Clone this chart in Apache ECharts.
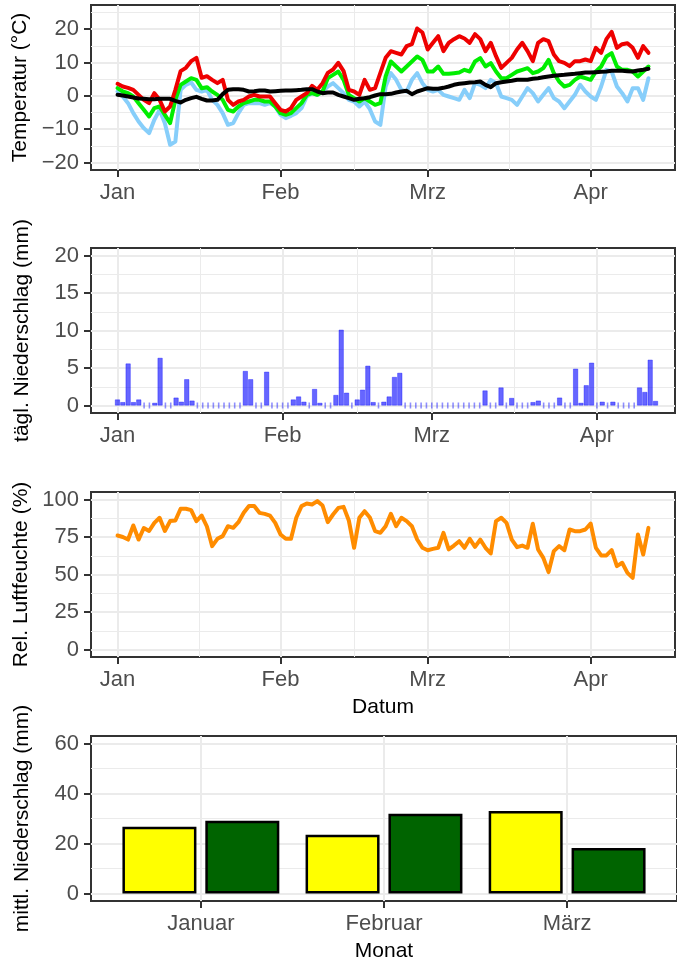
<!DOCTYPE html>
<html>
<head>
<meta charset="utf-8">
<script src="https://cdn.jsdelivr.net/npm/echarts@6/dist/echarts.min.js"></script>
<style>
  html, body { margin: 0; padding: 0; background: #fff; }
  #main { width: 677px; height: 965px; }
</style>
</head>
<body>
<div id="main"></div>
<script>
// Tageswerte, Index 0 = 1. Januar
const tMax = [3.6, 2.8, 2.4, 1.8, 0.3, -1.2, -2.2, 0.8, -1.2, -4.7,
  -3.2, 1.8, 7.4, 8.4, 10.4, 11.4, 5.4, 5.9, 4.8, 3.8,
  4.8, -1.2, -2.7, -1.7, -1.2, -0.2, 0.3, -0.2, -0.2, -0.2,
  -2.2, -4.2, -4.7, -3.7, -1.2, -0.2, 0.8, 3.0, 1.8, 3.8,
  6.9, 7.9, 9.9, 7.4, 1.8, 1.3, 0.3, 4.8, 1.8, 2.3,
  6.9, 11.4, 13.4, 12.9, 12.4, 14.9, 15.5, 20.2, 19.0, 13.9,
  15.9, 17.9, 13.4, 15.9, 17.0, 17.9, 17.2, 15.9, 18.5, 17.0,
  13.4, 15.9, 11.9, 8.4, 9.9, 11.4, 13.9, 15.9, 13.4, 10.4,
  15.9, 17.0, 16.4, 12.4, 10.4, 9.9, 8.9, 10.4, 10.4, 10.9,
  10.4, 14.4, 12.9, 17.0, 19.2, 14.4, 15.5, 15.8, 14.4, 11.4,
  14.9, 12.9]
const tMean = [2.3, 1.3, 0.8, -0.2, -2.2, -4.2, -6.2, -3.7, -3.2, -5.7,
  -8.2, -1.2, 3.3, 4.3, 5.3, 4.8, 2.3, 2.6, 1.3, 0.3,
  -1.2, -4.2, -4.7, -3.2, -2.2, -1.7, -1.2, -1.2, -1.7, -1.7,
  -3.2, -5.2, -5.7, -5.2, -3.7, -2.2, 0.3, 0.8, 0.3, 1.3,
  5.3, 6.3, 7.3, 4.8, 0.3, -0.7, -1.7, -0.7, -1.7, -2.7,
  -2.2, 5.8, 10.3, 8.8, 7.3, 8.8, 10.3, 11.8, 10.8, 7.3,
  7.3, 8.8, 6.6, 6.6, 6.8, 7.0, 7.8, 7.3, 10.3, 11.3,
  8.8, 9.8, 7.3, 5.3, 5.3, 6.3, 7.3, 7.8, 8.3, 6.8,
  7.3, 8.3, 10.8, 6.8, 4.3, 2.8, 3.3, 4.8, 5.8, 5.3,
  4.8, 7.3, 8.8, 11.8, 12.8, 8.8, 7.8, 7.8, 7.3, 5.8,
  7.3, 8.8]
const tMin = [1.3, -0.2, -2.2, -5.2, -7.7, -9.7, -11.2, -7.2, -4.2, -8.2,
  -14.7, -13.7, 1.8, 3.3, 4.0, 1.8, 1.3, 1.8, -1.2, -2.7,
  -5.2, -8.7, -8.2, -5.2, -2.7, -2.2, -2.2, -2.2, -2.7, -2.2,
  -3.2, -5.7, -6.7, -6.0, -5.2, -3.7, -0.2, 0.8, 0.3, 1.3,
  2.8, 3.8, 2.3, 0.8, -1.2, -1.7, -3.2, -1.7, -4.0, -7.7,
  -8.7, 2.8, 6.8, 4.8, 1.8, 1.3, 4.8, 6.8, 3.8, 1.8,
  1.3, 1.8, 0.3, -0.2, -0.7, -1.2, 1.8, -0.7, 3.8, 3.3,
  2.3, 4.8, 3.8, -0.2, -0.7, -1.2, -2.7, -0.2, 2.3, 0.8,
  -1.7, 0.3, 2.3, -0.7, -1.7, -3.7, -1.7, 0.3, 3.3, 1.3,
  -0.2, -1.2, 2.8, 7.8, 7.3, 2.8, 0.8, -1.7, 2.3, 2.3,
  -1.2, 5.3]
const tTrend = [0.3, 0.1, -0.2, -0.5, -0.8, -0.9, -1.0, -1.0, -0.9, -0.9,
  -0.9, -1.5, -2.0, -1.2, -0.7, -0.3, -0.9, -1.4, -1.4, -1.2,
  0.5, 1.8, 2.0, 2.0, 1.8, 1.3, 1.4, 1.6, 1.6, 1.3,
  1.4, 1.5, 1.6, 1.6, 1.7, 1.8, 2.0, 2.0, 1.3, 0.8,
  1.0, 1.0, 0.3, -0.2, -0.7, -1.2, -0.9, -0.7, -0.4, 0.1,
  0.5, 0.5, 0.6, 1.0, 1.3, 1.5, 0.5, 1.3, 1.8, 2.3,
  2.1, 2.1, 2.4, 2.8, 3.3, 3.6, 3.8, 4.0, 4.1, 4.3,
  3.3, 2.6, 3.8, 4.1, 4.3, 4.5, 4.8, 4.8, 4.8, 5.1,
  5.3, 5.6, 5.8, 6.0, 6.2, 6.3, 6.5, 6.6, 6.8, 7.0,
  7.0, 7.1, 7.2, 7.3, 7.5, 7.5, 7.5, 7.4, 7.3, 7.6,
  7.8, 8.1]
const rain = [0.8, 0.45, 5.6, 0.45, 0.8, 0, 0, 0.35, 6.35, 0,
  0, 1.05, 0.5, 3.5, 0.65, 0, 0, 0, 0, 0,
  0, 0, 0, 0, 4.6, 3.5, 0, 0, 4.5, 0,
  0, 0, 0, 0.8, 1.2, 0.5, 0, 2.2, 0.35, 0,
  0, 1.4, 10.1, 1.7, 0, 0.8, 2.1, 5.3, 0.45, 0,
  0.5, 1.2, 3.8, 4.35, 0, 0, 0, 0, 0, 0,
  0, 0, 0, 0, 0, 0, 0, 0, 0, 2.0,
  0, 0, 2.4, 0, 1.0, 0, 0, 0, 0.45, 0.65,
  0, 0, 0, 1.05, 0, 0, 4.9, 0.35, 2.7, 5.7,
  0, 0.5, 0, 0.5, 0, 0, 0, 0, 2.4, 1.8,
  6.1, 0.6]
const humidity = [76, 75, 73.3, 82.7, 73.3, 81, 79, 84.4, 87.8, 79,
  85.6, 86, 93.8, 93.8, 92.9, 85.6, 89.3, 82, 68.9, 73.8,
  75.6, 82.2, 81.1, 84.9, 91.1, 95.6, 95.6, 91.1, 90.4, 89.3,
  84.4, 76.7, 73.8, 73.8, 87.8, 95.6, 97.3, 96.7, 98.9, 96,
  84.9, 90, 94.4, 95.1, 86, 67.8, 87.8, 92.2, 88, 78.9,
  77.8, 82.2, 90.4, 82.2, 87.8, 85.6, 82.2, 73.3, 67.8, 66.2,
  67.1, 67.8, 77.8, 66.7, 69.3, 72.2, 67.8, 73.8, 68.4, 73.3,
  67.8, 64, 85.6, 87.8, 84.4, 73.3, 68.2, 69.3, 67.8, 83.8,
  66.7, 61.1, 51.6, 65.6, 68.9, 66.2, 80, 78.9, 78.9, 80,
  84, 67.8, 62.7, 62.7, 66.2, 55.6, 57.8, 51.1, 47.8, 76.7,
  63.3, 81.1]

// Monatsmittel
const monthNames = ['Januar', 'Februar', 'März']
const rainMonthA = [26.7, 23.5, 33.0]
const rainMonthB = [29.1, 31.9, 18.2]

// Achsen
const monthTicks = [0, 31, 59, 90]
const monthLabels = ['Jan', 'Feb', 'Mrz', 'Apr']
const monthMinor = [15.5, 45, 74.5]
const tempTicks = [-20, -10, 0, 10, 20]
const tempMinor = [-15, -5, 5, 15, 25]
const rainTicks = [0, 5, 10, 15, 20]
const rainMinor = [2.5, 7.5, 12.5, 17.5]
const humTicks = [0, 25, 50, 75, 100]
const humMinor = [12.5, 37.5, 62.5, 87.5]
const barTicks = [0, 20, 40, 60]
const barMinor = [10, 30, 50]
const barCats = [1, 2, 3]

const FONT = '"Liberation Sans", Arial, sans-serif'
const pairs = arr => arr.map((v, i) => [i, v])

function mainAxis(gridIndex, min, max, ticks, fmt, extra) {
  return Object.assign({
    type: 'value', gridIndex, min, max,
    axisLine: { show: false, onZero: false },
    axisTick: { show: true, length: 7, customValues: ticks, lineStyle: { color: '#333333', width: 2 } },
    axisLabel: { customValues: ticks, formatter: fmt, color: '#4D4D4D', fontSize: 22, fontFamily: FONT, margin: 12 },
    splitLine: { show: true, lineStyle: { color: '#EBEBEB', width: 2 } }
  }, extra || {})
}
function minorAxis(gridIndex, min, max, minor, position) {
  return {
    type: 'value', gridIndex, min, max, position,
    axisLine: { show: false, onZero: false },
    axisTick: { show: false, customValues: minor },
    axisLabel: { show: false, customValues: minor },
    splitLine: { show: true, lineStyle: { color: '#EBEBEB', width: 1 } }
  }
}
const yName = (name, gap) => ({
  name, nameLocation: 'middle', nameRotate: 90, nameGap: gap,
  nameTextStyle: { color: '#000', fontSize: 21, fontFamily: FONT }
})
const xName = (name) => ({
  name, nameLocation: 'middle', nameGap: 40,
  nameTextStyle: { color: '#000', fontSize: 21, fontFamily: FONT }
})
const monthFmt = v => monthLabels[monthTicks.indexOf(v)]
const minusFmt = v => String(v).replace('-', '\u2212')

const myChart = echarts.init(document.getElementById('main'), null, { renderer: 'canvas' })

const gridBox = { show: true, borderColor: '#333333', borderWidth: 2, backgroundColor: '#fff' }
const lineSeries = (data, color, x, y) => ({
  type: 'line', xAxisIndex: x, yAxisIndex: y, data: pairs(data), showSymbol: false,
  lineStyle: { color, width: 4, join: 'round', cap: 'round' }, itemStyle: { color }
})

myChart.setOption({
  animation: false,
  textStyle: { fontFamily: FONT },
  grid: [
    Object.assign({ left: 91, top: 5, width: 584, height: 165 }, gridBox),
    Object.assign({ left: 91, top: 248, width: 584, height: 165 }, gridBox),
    Object.assign({ left: 91, top: 492, width: 584, height: 165 }, gridBox),
    Object.assign({ left: 91, top: 736, width: 592, height: 165 }, gridBox)
  ],
  xAxis: [
    mainAxis(0, -5.05, 106.05, monthTicks, monthFmt),
    minorAxis(0, -5.05, 106.05, monthMinor, 'top'),
    mainAxis(1, -4.97, 104.66, monthTicks, monthFmt),
    minorAxis(1, -4.97, 104.66, monthMinor, 'top'),
    mainAxis(2, -5.05, 106.05, monthTicks, monthFmt, xName('Datum')),
    minorAxis(2, -5.05, 106.05, monthMinor, 'top'),
    mainAxis(3, 0.4, 3.6, barCats, v => monthNames[v - 1], xName('Monat'))
  ],
  yAxis: [
    mainAxis(0, -22.25, 27.25, tempTicks, minusFmt, yName('Temperatur (°C)', 58)),
    minorAxis(0, -22.25, 27.25, tempMinor, 'right'),
    mainAxis(1, -1, 21, rainTicks, v => String(v), yName('tägl. Niederschlag (mm)', 58)),
    minorAxis(1, -1, 21, rainMinor, 'right'),
    mainAxis(2, -5, 105, humTicks, v => String(v), yName('Rel. Luftfeuchte (%)', 58)),
    minorAxis(2, -5, 105, humMinor, 'right'),
    mainAxis(3, -3, 63, barTicks, v => String(v), yName('mittl. Niederschlag (mm)', 58)),
    minorAxis(3, -3, 63, barMinor, 'right')
  ],
  series: [
    lineSeries(tMin, '#87CEFA', 0, 0),
    lineSeries(tMean, '#00EE00', 0, 0),
    lineSeries(tMax, '#EE0000', 0, 0),
    lineSeries(tTrend, '#000000', 0, 0),
    {
      type: 'bar', xAxisIndex: 2, yAxisIndex: 2, barWidth: 5,
      data: pairs(rain).filter(d => d[1] > 0),
      itemStyle: { color: 'rgba(0,0,255,0.6)', borderColor: 'rgba(0,0,255,0.6)', borderWidth: 0.6 }
    },
    {
      type: 'scatter', xAxisIndex: 2, yAxisIndex: 2, symbol: 'rect', symbolSize: [1.6, 6],
      data: pairs(rain).filter(d => d[1] === 0),
      itemStyle: { color: 'rgba(0,0,255,0.55)' }
    },
    lineSeries(humidity, '#FF8C00', 4, 4),
    {
      type: 'bar', xAxisIndex: 6, yAxisIndex: 6, barWidth: 74, barGap: '12%',
      data: barCats.map((c, i) => [c, rainMonthA[i]]),
      itemStyle: { color: '#FFFF00', borderColor: '#000', borderWidth: 2.5 }
    },
    {
      type: 'bar', xAxisIndex: 6, yAxisIndex: 6, barWidth: 74, barGap: '12%',
      data: barCats.map((c, i) => [c, rainMonthB[i]]),
      itemStyle: { color: '#006400', borderColor: '#000', borderWidth: 2.5 }
    }
  ]
})
</script>
</body>
</html>
